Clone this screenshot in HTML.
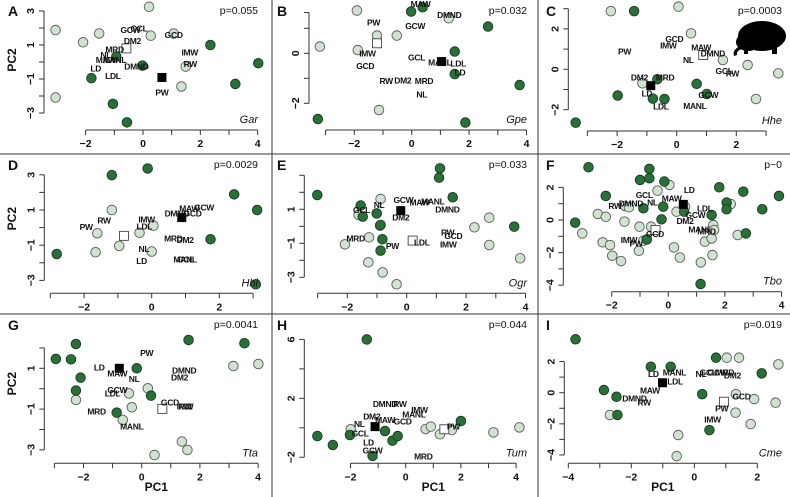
<!DOCTYPE html>
<html><head><meta charset="utf-8"><style>
body{margin:0;background:#fff;}
svg{display:block;font-family:"Liberation Sans",Arial,sans-serif;}
.tk{font-size:10.5px;font-weight:bold;fill:#111;}
.lab{font-size:8.5px;font-weight:bold;fill:#111;letter-spacing:-0.3px;}
</style></head><body>
<svg id="chart" width="790" height="497" viewBox="0 0 790 497">
<line x1="272" y1="0" x2="272" y2="497" stroke="#333" stroke-width="1"/>
<line x1="538" y1="0" x2="538" y2="497" stroke="#333" stroke-width="1"/>
<line x1="0" y1="154" x2="790" y2="154" stroke="#333" stroke-width="1"/>
<line x1="0" y1="314" x2="790" y2="314" stroke="#333" stroke-width="1"/>
<g fill="#000">
<ellipse cx="762" cy="36" rx="24" ry="15"/>
<ellipse cx="748" cy="42" rx="12" ry="9"/>
<path d="M740 46 Q732 50 734 56 L737 55 Q736 51 742 49 Z"/>
<rect x="744" y="47" width="4" height="7"/><rect x="772" y="46" width="5" height="8"/>
</g>
</svg>
<script>
const A_light=[[-3.05,1.88],[-1.53,1.68],[-2.09,1.16],[0.21,3.25],[0.27,1.55],[1.07,1.68],[1.49,-0.27],[1.34,-1.44],[-3.05,-2.09]];
const A_dark=[[-0.93,0.32],[-0.02,-0.21],[-1.8,-0.95],[-1.05,-2.46],[-0.56,-3.55],[2.35,1.0],[3.22,-1.29],[4.02,-0.07]];
const A_centroids=[[0.66,-0.91],[-0.58,0.8]];
const A_labels=[["GCW",-0.44,1.88],["GCL",-0.14,1.98],["GCD",1.07,1.59],["DM2",-0.37,1.23],["MRD",-0.99,0.75],["NL",-1.3,0.41],["MAW",-1.3,0.12],["MANL",-0.99,0.12],["DMND",-0.23,-0.27],["LD",-1.65,-0.37],["LDL",-1.05,-0.82],["IMW",1.63,0.55],["RW",1.65,-0.13],["PW",0.66,-1.79]];

const B_light=[[-1.91,1.71],[-3.2,0.27],[-1.21,0.71],[-0.52,0.71],[-1.88,0.13],[1.29,1.4],[-1.14,-2.27]];
const B_dark=[[-0.02,1.67],[0.38,1.84],[2.66,1.07],[1.5,0.07],[1.5,-0.83],[3.76,-1.27],[-3.27,-2.63],[1.87,-2.77]];
const B_centroids=[[1.04,-0.33],[-1.21,0.4]];
const B_labels=[["MAW",0.31,1.97],["DMND",1.31,1.53],["PW",-1.33,1.23],["GCW",0.12,1.09],["IMW",-1.54,0],["GCD",-1.62,-0.51],["GCL",0.17,-0.16],["MANL",0.98,-0.37],["LDL",1.62,-0.4],["LD",1.68,-0.77],["RW",-0.89,-1.11],["DM2",-0.31,-1.09],["MRD",0.43,-1.11],["NL",0.35,-1.64]];

const C_light=[[-2.21,2.88],[0.06,3.1],[0.48,1.78],[1.55,0.46],[2.38,0.21],[3.41,-0.2],[2.66,-1.47],[-1.15,-0.69]];
const C_dark=[[-1.43,2.88],[-0.65,-0.49],[0.67,-0.72],[1.01,-1.22],[-1.98,-1.3],[-0.8,-1.45],[-0.41,-1.47],[-3.39,-2.64]];
const C_centroids=[[-0.87,-0.81],[0.89,0.71]];
const C_labels=[["GCD",-0.08,1.5],["IMW",-0.28,1.17],["PW",-1.75,0.87],["MAW",0.82,1.07],["DMND",1.21,0.79],["NL",0.39,0.46],["GCL",1.59,-0.08],["RW",1.87,-0.2],["DM2",-1.25,-0.41],["MRD",-0.39,-0.41],["LD",-1.0,-1.19],["LDL",-0.53,-1.85],["MANL",0.61,-1.81],["GCW",1.06,-1.27]];

const D_light=[[-1.18,1.0],[-1.61,-0.32],[-1.66,-1.4],[-0.96,-1.04],[-0.36,-0.29],[0.05,0.11],[0,-1.36]];
const D_dark=[[-1.18,2.98],[-0.12,3.36],[2.44,1.89],[3.12,1.0],[1.74,-0.66],[-2.81,-1.5],[3.08,-3.22]];
const D_centroids=[[0.89,0.57],[-0.82,-0.47]];
const D_labels=[["MAW",1.11,1.09],["GCW",1.55,1.13],["DMND",0.74,0.81],["GCD",1.21,0.81],["RW",-1.41,0.4],["IMW",-0.15,0.47],["LDL",-0.22,0.05],["PW",-1.94,0.02],["MRD",0.64,-0.61],["DM2",0.99,-0.7],["NL",-0.23,-1.23],["LD",-0.3,-1.89],["MANL",0.99,-1.8],["GCL",1.0,-1.8]];

const E_light=[[-0.88,1.61],[-1.62,0.67],[-0.9,0.04],[-1.27,-0.65],[-2.08,-1.06],[-1.29,-2.12],[-0.81,-2.71],[-0.34,-3.41],[2.28,-0.06],[2.78,0.51],[2.78,-1.1],[3.82,-1.88]];
const E_dark=[[-3.01,1.84],[-1.55,1.22],[-1.48,0.57],[-1.01,0.76],[-0.88,0.08],[-0.82,-0.76],[-0.88,-1.43],[1.12,3.41],[1.09,2.86],[1.55,1.71],[3.62,-0.02]];
const E_centroids=[[-0.2,0.92],[0.2,-0.84]];
const E_labels=[["GCW",-0.11,1.55],["MAW",0.43,1.39],["MANL",0.88,1.45],["DMND",1.37,1.0],["NL",-0.93,1.25],["GCL",-1.52,0.96],["DM2",-0.2,0.53],["MRD",-1.72,-0.71],["PW",-0.48,-1.16],["LDL",0.51,-0.94],["RW",1.38,-0.35],["GCD",1.57,-0.57],["IMW",1.4,-1.06]];

const F_light=[[0.04,2.15],[-0.38,1.8],[-1.53,0.86],[-1.39,0.78],[-2.49,0.37],[-2.21,0.2],[-1.55,-0.1],[-3.04,-0.82],[-1.02,-0.41],[-0.61,-0.41],[-2.32,-1.37],[-2.06,-1.54],[-1.98,-2.19],[-1.67,-2.52],[-1.04,-1.89],[-0.88,-1.27],[0.29,0.51],[0.2,-1.68],[0.41,-2.3],[1.15,-2.6],[1.29,-1.33],[1.53,-1.13],[1.56,-2.15],[1.59,-0.31],[1.62,-0.61],[2.21,0.98],[2.45,-0.92],[0.59,0.82]];
const F_dark=[[-2.82,3.24],[-0.67,3.14],[-0.67,2.56],[-1.0,2.46],[-0.14,2.36],[-2.21,1.48],[-0.88,0.72],[-0.18,0.82],[-0.24,0.04],[-3.29,-0.16],[1.8,2.01],[2.65,1.74],[3.91,1.48],[2.06,1.07],[2.06,0.66],[3.32,0.66],[0.56,0.51],[1.53,0.31],[-0.76,-1.19],[2.74,-0.82],[1.14,-3.93]];
const F_centroids=[[0.53,0.96],[-0.45,-0.61]];
const F_labels=[["LD",0.74,1.84],["GCL",-0.85,1.54],["MAW",0.12,1.33],["NL",-0.56,1.07],["DMND",-1.32,1.02],["RW",-1.88,0.86],["LDL",1.29,0.72],["GCW",0.96,0.31],["DM2",0.59,-0.06],["MANL",1.12,-0.57],["MRD",1.35,-0.72],["GCD",-0.47,-0.86],["IMW",-1.39,-1.23],["PW",-1.14,-1.43]];

const G_light=[[-2.26,-0.55],[-0.44,-0.23],[-0.34,-0.91],[-0.65,-1.53],[0.21,0.02],[3.15,1.11],[4.01,1.21],[1.38,-2.59],[1.57,-3.0],[0.44,-3.25]];
const G_dark=[[-2.26,2.19],[-2.95,1.46],[-2.43,1.44],[-2.1,0.54],[-2.26,-0.09],[-0.17,1.0],[0.32,-0.34],[-0.86,-1.17],[1.61,2.39],[3.53,2.23]];
const G_centroids=[[-0.77,1.0],[0.71,-0.99]];
const G_labels=[["PW",0.17,1.74],["LD",-1.46,1.03],["MAW",-0.84,0.75],["NL",-0.26,0.48],["DMND",1.46,0.89],["DM2",1.3,0.56],["GCW",-0.84,-0.06],["LDL",-1.0,-0.23],["GCD",0.97,-0.68],["IMW",1.49,-0.88],["RW",1.49,-0.88],["MRD",-1.55,-1.12],["MANL",-0.34,-1.86]];

const H_light=[[-1.99,-0.1],[0.72,-0.08],[0.91,0.08],[1.24,-0.44],[1.67,-0.15],[3.18,-0.31],[4.12,0.03]];
const H_dark=[[-1.41,6.0],[-3.2,-0.56],[-2.64,-1.17],[-2.02,-0.49],[-1.2,-1.91],[-0.75,-0.22],[-0.48,-0.87],[-0.29,-0.56],[2.0,0.46]];
const H_centroids=[[-1.11,0.08],[1.4,-0.1]];
const H_labels=[["DMND",-0.75,1.62],["RW",-0.21,1.62],["IMW",0.5,1.21],["MANL",0.3,0.91],["DM2",-1.23,0.76],["MAW",-0.75,0.53],["GCD",-0.11,0.42],["NL",-1.68,0.26],["GCL",-1.65,-0.38],["LD",-1.35,-0.99],["GCW",-1.2,-1.55],["MRD",0.64,-1.96],["PW",1.73,0.08]];

const I_light=[[-2.68,-1.43],[1.03,2.25],[1.42,2.25],[2.67,1.82],[1.32,-0.09],[1.9,-0.41],[2.58,-0.64],[1.31,-1.28],[1.79,-2.01],[-0.51,-2.72],[-0.56,-4.07]];
const I_dark=[[-3.77,3.43],[-2.87,0.17],[-2.47,-0.26],[-2.44,-1.43],[-1.38,1.67],[-0.75,1.67],[0.25,-0.09],[0.69,2.25],[2.14,1.24],[0.48,-2.4]];
const I_centroids=[[-1.01,0.64],[0.94,-0.58]];
const I_labels=[["LD",-1.3,1.2],["MANL",-0.63,1.31],["LDL",-0.61,0.71],["MAW",-1.41,0.13],["DMND",-1.9,-0.36],["RW",-1.59,-0.62],["NL",0.21,1.2],["GCL",0.44,1.31],["GCW",0.74,1.31],["MRD",0.97,1.31],["DM2",1.21,1.09],["GCD",1.5,-0.26],["PW",0.87,-1.01],["IMW",0.58,-1.71]];

const A_xticks=[-2,-1,0,1,2,3,4], A_yticks=[-3,-2,-1,0,1,2,3];
const B_xticks=[-3,-2,-1,0,1,2,3,4], B_yticks=[-2,-1,0,1];
const C_xticks=[-3,-2,-1,0,1,2,3], C_yticks=[-2,-1,0,1,2,3];
const D_xticks=[-3,-2,-1,0,1,2,3], D_yticks=[-3,-2,-1,0,1,2,3];
const E_xticks=[-3,-2,-1,0,1,2,3,4], E_yticks=[-3,-2,-1,0,1,2,3];
const F_xticks=[-2,-1,0,1,2,3,4], F_yticks=[-4,-3,-2,-1,0,1,2];
const G_xticks=[-3,-2,-1,0,1,2,3,4], G_yticks=[-3,-2,-1,0,1,2];
const H_xticks=[-2,-1,0,1,2,3,4], H_yticks=[-2,0,2,4,6];
const I_xticks=[-4,-3,-2,-1,0,1,2], I_yticks=[-4,-3,-2,-1,0,1,2];
const A_xlab=[-2,0,2,4], A_ylab=[-3,-1,1,3];
const B_xlab=[-2,0,2,4], B_ylab=[-2,0];
const C_xlab=[-2,0,2], C_ylab=[-2,0,2];
const D_xlab=[-2,0,2], D_ylab=[-3,-1,1,3];
const E_xlab=[-2,0,2,4], E_ylab=[-3,-1,1];
const F_xlab=[-2,0,2,4], F_ylab=[-4,-2,0,2];
const G_xlab=[-2,0,2,4], G_ylab=[-3,-1,1];
const H_xlab=[-2,0,2,4], H_ylab=[-2,2,6];
const I_xlab=[-4,-2,0,2], I_ylab=[-4,-2,0,2];
const pValues=["p=0.055","p=0.032","p=0.0003","p=0.0029","p=0.033","p~0","p=0.0041","p=0.044","p=0.019"];
const species=["Gar","Gpe","Hhe","Hhi","Ogr","Tbo","Tta","Tum","Cme"];

const panels=[
 {id:"a",L:"A",x0:143,kx:28.67,y0:62,ky:17,ay:130,ax:44,pr:258,top:0,lx:8,light:A_light,dark:A_dark,c:A_centroids,lab:A_labels,xt:A_xticks,yt:A_yticks,xl:A_xlab,yl:A_ylab,pc2:true},
 {id:"b",L:"B",x0:411.7,kx:28.7,y0:53.3,ky:25,ay:130,ax:309,pr:527,top:0,lx:277,light:B_light,dark:B_dark,c:B_centroids,lab:B_labels,xt:B_xticks,yt:B_yticks,xl:B_xlab,yl:B_ylab,ytop:1.63},
 {id:"c",L:"C",x0:676.7,kx:29.8,y0:69.3,ky:20.2,ay:131,ax:568.3,pr:782,top:0,lx:546,light:C_light,dark:C_dark,c:C_centroids,lab:C_labels,xt:C_xticks,yt:C_yticks,xl:C_xlab,yl:C_ylab},
 {id:"d",L:"D",x0:151.7,kx:33.8,y0:227.6,ky:17.6,ay:293.3,ax:44.3,pr:258,top:154,lx:8,light:D_light,dark:D_dark,c:D_centroids,lab:D_labels,xt:D_xticks,yt:D_yticks,xl:D_xlab,yl:D_ylab,pc2:true},
 {id:"e",L:"E",x0:406.7,kx:29.7,y0:226.3,ky:17,ay:293.3,ax:304.3,pr:527,top:154,lx:277,light:E_light,dark:E_dark,c:E_centroids,lab:E_labels,xt:E_xticks,yt:E_yticks,xl:E_xlab,yl:E_ylab},
 {id:"f",L:"F",x0:668.3,kx:28.3,y0:220,ky:16.3,ay:291.7,ax:563.3,pr:782,top:154,lx:546,light:F_light,dark:F_dark,c:F_centroids,lab:F_labels,xt:F_xticks,yt:F_yticks,xl:F_xlab,yl:F_ylab},
 {id:"g",L:"G",x0:141.7,kx:29.1,y0:388.7,ky:20.4,ay:463.3,ax:44.3,pr:258,top:314,lx:8,light:G_light,dark:G_dark,c:G_centroids,lab:G_labels,xt:G_xticks,yt:G_yticks,xl:G_xlab,yl:G_ylab,pc2:true,pc1:true},
 {id:"h",L:"H",x0:405.7,kx:27.6,y0:427.8,ky:14.73,ay:463.3,ax:304.3,pr:527,top:314,lx:277,light:H_light,dark:H_dark,c:H_centroids,lab:H_labels,xt:H_xticks,yt:H_yticks,xl:H_xlab,yl:H_ylab,pc1:true},
 {id:"i",L:"I",x0:694.3,kx:31.5,y0:392.7,ky:15.57,ay:463.3,ax:564.3,pr:782,top:314,lx:546,light:I_light,dark:I_dark,c:I_centroids,lab:I_labels,xt:I_xticks,yt:I_yticks,xl:I_xlab,yl:I_ylab,pc1:true}
];
const NS="http://www.w3.org/2000/svg";
const svg=document.getElementById("chart");
function mk(tag,attrs,parent){const e=document.createElementNS(NS,tag);for(const k in attrs)e.setAttribute(k,attrs[k]);(parent||svg).appendChild(e);return e;}
panels.forEach((p,i)=>{
 const sx=v=>p.x0+v*p.kx, sy=v=>p.y0-v*p.ky;
 const g=mk("g",{});
 
 
 // x axis
 const xa=mk("g",{stroke:"#333","stroke-width":1},g);
 
 
 mk("line",{x1:sx(p.xt[0]),y1:p.ay,x2:sx(p.xt[p.xt.length-1]),y2:p.ay},xa);
 p.xt.forEach(t=>mk("line",{x1:sx(t),y1:p.ay,x2:sx(t),y2:p.ay+5},xa));
 p.xl.forEach(t=>{const tx=mk("text",{x:sx(t),y:p.ay+17,"text-anchor":"middle",class:"tk"},g);tx.textContent=(t<0?"\u2212"+(-t):t);
  
  });
 // y axis
 const ya=mk("g",{stroke:"#333","stroke-width":1},g);
 
 
 const ytop=p.ytop!==undefined?p.ytop:p.yt[p.yt.length-1];
 mk("line",{x1:p.ax,y1:sy(p.yt[0]),x2:p.ax,y2:sy(ytop)},ya);
 p.yt.forEach(t=>mk("line",{x1:p.ax,y1:sy(t),x2:p.ax-5,y2:sy(t)},ya));
 if(p.ytop!==undefined) mk("line",{x1:p.ax,y1:sy(ytop),x2:p.ax-5,y2:sy(ytop)},ya);
 p.yl.forEach(t=>{const yy=sy(t),xx=p.ax-10;const tx=mk("text",{x:xx,y:yy,"text-anchor":"middle",class:"tk",transform:`rotate(-90 ${xx} ${yy})`},g);tx.textContent=(t<0?"\u2212"+(-t):t);
  
  });
 // points
 p.light.forEach(d=>{const c=mk("circle",{cx:sx(d[0]),cy:sy(d[1]),r:4.8,fill:"#cfe3d0",stroke:"#5a5a5a","stroke-width":0.9},g);
  
  });
 p.dark.forEach(d=>{const c=mk("circle",{cx:sx(d[0]),cy:sy(d[1]),r:4.8,fill:"#2b6f38",stroke:"#163d1e","stroke-width":0.9},g);
  
  });
 const b=mk("rect",{x:sx(p.c[0][0])-4.5,y:sy(p.c[0][1])-4.5,width:9,height:9,fill:"#000"},g);
 
 
 const w=mk("rect",{x:sx(p.c[1][0])-4.5,y:sy(p.c[1][1])-4.5,width:9,height:9,fill:"#fff",stroke:"#444","stroke-width":0.9},g);
 
 
 p.lab.forEach(l=>{const t=mk("text",{x:sx(l[1]),y:sy(l[2])+3,"text-anchor":"middle",class:"lab"},g);t.textContent=l[0];
  
  });
 // annotations
 const L=mk("text",{x:p.lx,y:p.top+16,"font-size":"14","font-weight":"bold",fill:"#111"},g);L.textContent=p.L;
 
 
 const pv=mk("text",{x:p.pr,y:p.top+14,"text-anchor":"end","font-size":"10.5",fill:"#111"},g);pv.textContent=pValues[i];
 
 
 const sp=mk("text",{x:p.pr,y:p.ay-7,"text-anchor":"end","font-size":"11","font-style":"italic",fill:"#111"},g);sp.textContent=species[i];
 
 
 if(p.pc2){const yy=p.top+(p.ay-p.top)/2-5;const t=mk("text",{x:16,y:yy,"text-anchor":"middle","font-size":"12","font-weight":"bold",fill:"#111",transform:`rotate(-90 16 ${yy})`},g);t.textContent="PC2";
  
  }
 if(p.pc1){const xx=sx((p.xt[0]+p.xt[p.xt.length-1])/2);const t=mk("text",{x:xx,y:491,"text-anchor":"middle","font-size":"12","font-weight":"bold",fill:"#111"},g);t.textContent="PC1";
  
  }
});
</script>
</body></html>
